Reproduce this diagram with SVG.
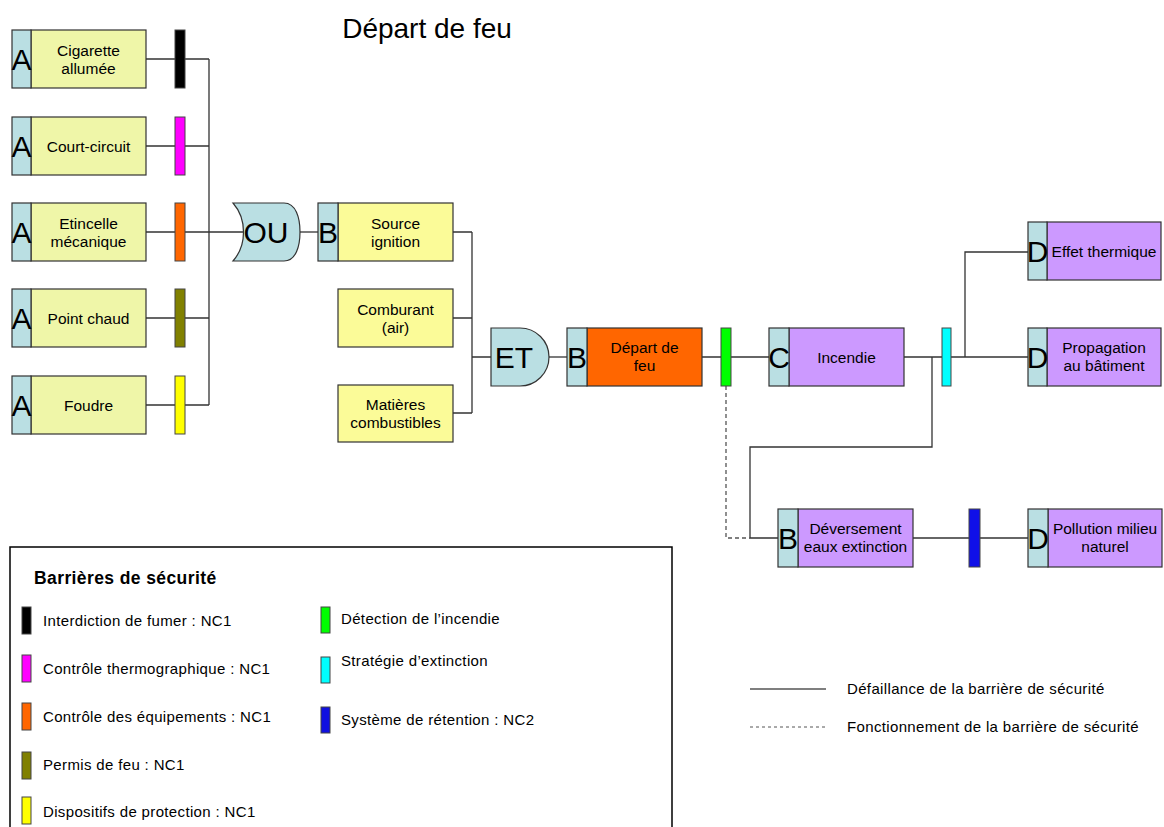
<svg xmlns="http://www.w3.org/2000/svg" width="1164" height="827" viewBox="0 0 1164 827">
<style>
  text { font-family: "Liberation Sans", Arial, sans-serif; fill: #000; }
  .lbl { font-size: 15.5px; text-anchor: middle; }
  .tag { font-size: 30px; text-anchor: middle; }
  .pre { fill: #badfe3; stroke: #333; stroke-width: 1.2; }
  .evA { fill: #eff6a8; stroke: #333; stroke-width: 1.2; }
  .evY { fill: #fbfb98; stroke: #333; stroke-width: 1.2; }
  .evO { fill: #ff6600; stroke: #333; stroke-width: 1.2; }
  .evP { fill: #cc99ff; stroke: #333; stroke-width: 1.2; }
  .gate { fill: #badfe3; stroke: #333; stroke-width: 1.2; }
  .bar { stroke: #444; stroke-width: 1; }
  .ln { fill: none; stroke: #333; stroke-width: 1.3; }
  .dash { fill: none; stroke: #555; stroke-width: 1.3; stroke-dasharray: 4 3; }
  .leg { font-size: 15px; letter-spacing: 0.35px; }
</style>

<text x="427" y="38" font-size="28" text-anchor="middle">Départ de feu</text>

<!-- connectors -->
<g id="connectors">
  <path class="ln" d="M146,59 H209 M146,146 H209 M146,232 H209 M146,318 H209 M146,405 H209 M209,59 V405 M209,232 H243"/>
  <path class="ln" d="M300,232 H318"/>
  <path class="ln" d="M453,232 H472 M453,318 H472 M453,413 H472 M472,232 V413 M472,357 H491"/>
  <path class="ln" d="M549,357 H567"/>
  <path class="ln" d="M702,357 H769"/>
  <path class="ln" d="M904,357 H1028 M965,357 V252 H1028"/>
  <path class="ln" d="M932,357 V447 H750 V538 H778"/>
  <path class="dash" d="M726,386 V538 H750"/>
  <path class="ln" d="M913,538 H1028"/>
</g>

<!-- level A events -->
<g id="cigarette">
  <rect class="evA" x="31" y="30" width="115" height="58"/>
  <rect class="pre" x="12" y="30" width="19" height="58"/>
  <text class="tag" x="21.5" y="70">A</text>
  <text class="lbl" x="88.5" y="56">Cigarette</text>
  <text class="lbl" x="88.5" y="74">allumée</text>
  <rect class="bar" x="175" y="30" width="10" height="58" fill="#000"/>
</g>
<g id="court-circuit">
  <rect class="evA" x="31" y="117" width="115" height="58"/>
  <rect class="pre" x="12" y="117" width="19" height="58"/>
  <text class="tag" x="21.5" y="157">A</text>
  <text class="lbl" x="88.5" y="152">Court-circuit</text>
  <rect class="bar" x="175" y="117" width="10" height="58" fill="#ff00ff"/>
</g>
<g id="etincelle">
  <rect class="evA" x="31" y="203" width="115" height="58"/>
  <rect class="pre" x="12" y="203" width="19" height="58"/>
  <text class="tag" x="21.5" y="243">A</text>
  <text class="lbl" x="88.5" y="229">Etincelle</text>
  <text class="lbl" x="88.5" y="247">mécanique</text>
  <rect class="bar" x="175" y="203" width="10" height="58" fill="#ff6600"/>
</g>
<g id="point-chaud">
  <rect class="evA" x="31" y="289" width="115" height="58"/>
  <rect class="pre" x="12" y="289" width="19" height="58"/>
  <text class="tag" x="21.5" y="329">A</text>
  <text class="lbl" x="88.5" y="324">Point chaud</text>
  <rect class="bar" x="175" y="289" width="10" height="58" fill="#808000"/>
</g>
<g id="foudre">
  <rect class="evA" x="31" y="376" width="115" height="58"/>
  <rect class="pre" x="12" y="376" width="19" height="58"/>
  <text class="tag" x="21.5" y="416">A</text>
  <text class="lbl" x="88.5" y="411">Foudre</text>
  <rect class="bar" x="175" y="376" width="10" height="58" fill="#ffff00"/>
</g>

<!-- OR gate -->
<g id="ou">
  <path class="gate" d="M233,203 L284,203 C296,203 300,218 300,232 C300,246 296,261 284,261 L233,261 C247,245 247,219 233,203 Z"/>
  <text x="266" y="243" font-size="30" text-anchor="middle">OU</text>
</g>

<!-- level B inputs -->
<g id="source-ignition">
  <rect class="evY" x="338" y="203" width="115" height="58"/>
  <rect class="pre" x="318" y="203" width="20" height="58"/>
  <text class="tag" x="328" y="243">B</text>
  <text class="lbl" x="395.5" y="229">Source</text>
  <text class="lbl" x="395.5" y="247">ignition</text>
</g>
<g id="comburant">
  <rect class="evY" x="338" y="289" width="115" height="58"/>
  <text class="lbl" x="395.5" y="315">Comburant</text>
  <text class="lbl" x="395.5" y="333">(air)</text>
</g>
<g id="matieres">
  <rect class="evY" x="338" y="385" width="115" height="57"/>
  <text class="lbl" x="395.5" y="410">Matières</text>
  <text class="lbl" x="395.5" y="428">combustibles</text>
</g>

<!-- AND gate -->
<g id="et">
  <path class="gate" d="M491,328 L520,328 A29,29 0 0 1 520,386 L491,386 Z"/>
  <text x="514" y="368" font-size="30" text-anchor="middle">ET</text>
</g>

<!-- central event -->
<g id="depart-feu">
  <rect class="evO" x="587" y="328" width="115" height="58"/>
  <rect class="pre" x="567" y="328" width="20" height="58"/>
  <text class="tag" x="577" y="368">B</text>
  <text class="lbl" x="644.5" y="353">Départ de</text>
  <text class="lbl" x="644.5" y="371">feu</text>
  <rect class="bar" x="721" y="328" width="10" height="58" fill="#00ff00"/>
</g>

<g id="incendie">
  <rect class="evP" x="789" y="328" width="115" height="58"/>
  <rect class="pre" x="769" y="328" width="20" height="58"/>
  <text class="tag" x="779" y="368">C</text>
  <text class="lbl" x="846.5" y="363">Incendie</text>
  <rect class="bar" x="942" y="328" width="9" height="58" fill="#00ffff"/>
</g>

<!-- consequences -->
<g id="effet-thermique">
  <rect class="evP" x="1047" y="222" width="114" height="58"/>
  <rect class="pre" x="1028" y="222" width="19" height="58"/>
  <text class="tag" x="1037.5" y="262">D</text>
  <text class="lbl" x="1104" y="257">Effet thermique</text>
</g>
<g id="propagation">
  <rect class="evP" x="1047" y="328" width="114" height="58"/>
  <rect class="pre" x="1028" y="328" width="19" height="58"/>
  <text class="tag" x="1037.5" y="368">D</text>
  <text class="lbl" x="1104" y="353">Propagation</text>
  <text class="lbl" x="1104" y="371">au bâtiment</text>
</g>
<g id="deversement">
  <rect class="evP" x="798" y="509" width="115" height="58"/>
  <rect class="pre" x="778" y="509" width="20" height="58"/>
  <text class="tag" x="788" y="549">B</text>
  <text class="lbl" x="855.5" y="534">Déversement</text>
  <text class="lbl" x="855.5" y="552">eaux extinction</text>
  <rect class="bar" x="969" y="509" width="11" height="58" fill="#1010e8"/>
</g>
<g id="pollution">
  <rect class="evP" x="1048" y="509" width="114" height="58"/>
  <rect class="pre" x="1028" y="509" width="20" height="58"/>
  <text class="tag" x="1038" y="549">D</text>
  <text class="lbl" x="1105" y="534">Pollution milieu</text>
  <text class="lbl" x="1105" y="552">naturel</text>
</g>

<!-- barrier legend -->
<g id="legend-barrieres">
  <path d="M10,827 V547 H672 V827" fill="#fff" stroke="#000" stroke-width="1.5"/>
  <text x="34" y="584" font-size="17.5" font-weight="bold" letter-spacing="0.4">Barrières de sécurité</text>
  <rect class="bar" x="22" y="607" width="9" height="27" fill="#000"/>
  <text class="leg" x="43" y="626">Interdiction de fumer : NC1</text>
  <rect class="bar" x="22" y="655" width="9" height="27" fill="#ff00ff"/>
  <text class="leg" x="43" y="674">Contrôle thermographique : NC1</text>
  <rect class="bar" x="22" y="703" width="9" height="27" fill="#ff6600"/>
  <text class="leg" x="43" y="722">Contrôle des équipements : NC1</text>
  <rect class="bar" x="22" y="752" width="9" height="27" fill="#808000"/>
  <text class="leg" x="43" y="770">Permis de feu : NC1</text>
  <rect class="bar" x="22" y="797" width="9" height="27" fill="#ffff00"/>
  <text class="leg" x="43" y="817">Dispositifs de protection : NC1</text>
  <rect class="bar" x="321" y="607" width="9" height="26" fill="#00ff00"/>
  <text class="leg" x="341" y="624">Détection de l’incendie</text>
  <rect class="bar" x="321" y="657" width="9" height="26" fill="#00ffff"/>
  <text class="leg" x="341" y="666">Stratégie d’extinction</text>
  <rect class="bar" x="321" y="707" width="9" height="26" fill="#1010e0"/>
  <text class="leg" x="341" y="725">Système de rétention : NC2</text>
</g>

<!-- line style legend -->
<g id="legend-lignes">
  <line x1="750" y1="689" x2="826" y2="689" stroke="#555" stroke-width="1.3"/>
  <text class="leg" x="847" y="694">Défaillance de la barrière de sécurité</text>
  <line x1="750" y1="727" x2="826" y2="727" stroke="#555" stroke-width="1" stroke-dasharray="3 3"/>
  <text class="leg" x="847" y="732">Fonctionnement de la barrière de sécurité</text>
</g>
</svg>
